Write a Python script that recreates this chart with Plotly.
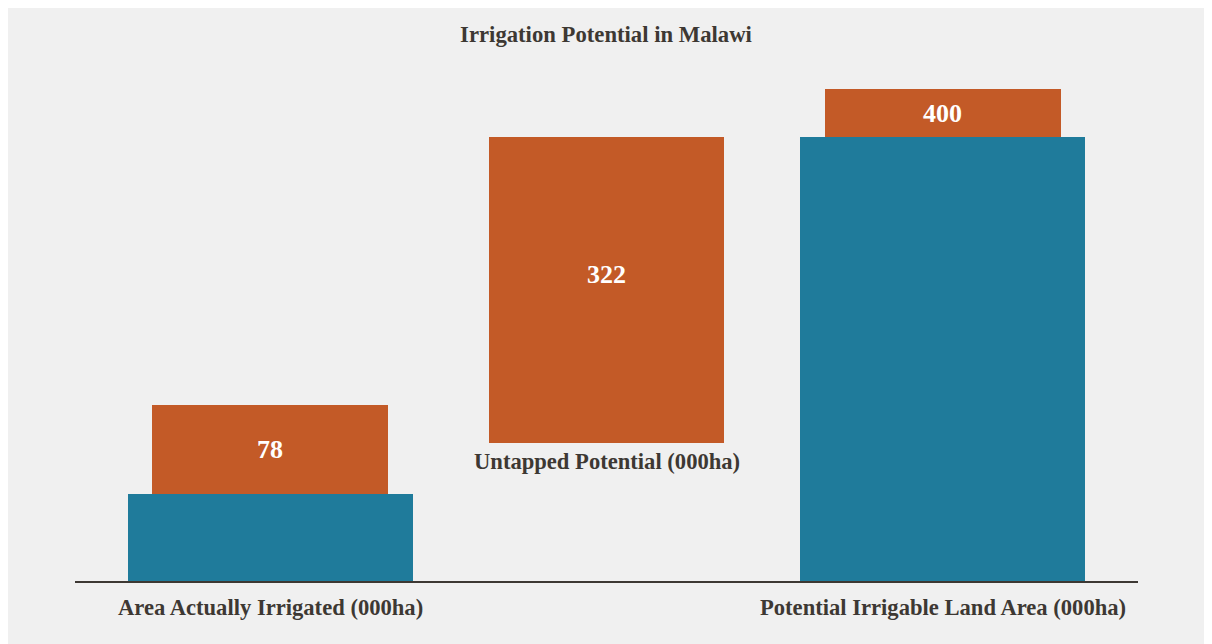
# %% Imports
import plotly.graph_objs as go

# %% Data
categories = ["Area Actually Irrigated (000ha)",
              "Untapped Potential (000ha)",
              "Potential Irrigable Land Area (000ha)"]
# blue columns (000ha)
blue_x = [0, 2]
blue_values = [78, 400]
# orange label boxes: base and height in axis units
box_x = [0, 1, 2]
box_base = [78, 124, 400]
box_height = [80, 276, 43]
box_labels = ["78", "322", "400"]
label_y = [118, 276, 421]

blue = "#1f7b9b"
orange = "#c35a27"
ink = "#3d3833"
font_family = "Liberation Serif, Times New Roman, serif"

# %% Figure
fig = go.Figure()
fig.add_trace(go.Bar(x=blue_x, y=blue_values, width=0.847,
                     marker={'color': blue, 'line': {'width': 0}},
                     hoverinfo="skip", showlegend=False))
fig.add_trace(go.Bar(x=box_x, y=box_height, base=box_base, width=0.70,
                     marker={'color': orange, 'line': {'width': 0}},
                     hoverinfo="skip", showlegend=False))

# numbers inside the orange boxes
for x, y, t in zip(box_x, label_y, box_labels):
    fig.add_annotation(x=x, y=y, text="<b>{}</b>".format(t), showarrow=False,
                       font={'family': font_family, 'size': 26,
                             'color': "white"})

# category labels
fig.add_annotation(x=0, y=0, yshift=-26, text="<b>{}</b>".format(categories[0]),
                   showarrow=False,
                   font={'family': font_family, 'size': 22.6, 'color': ink})
fig.add_annotation(x=1, y=124, yshift=-18, text="<b>{}</b>".format(categories[1]),
                   showarrow=False,
                   font={'family': font_family, 'size': 22.6, 'color': ink})
fig.add_annotation(x=2, y=0, yshift=-26, text="<b>{}</b>".format(categories[2]),
                   showarrow=False,
                   font={'family': font_family, 'size': 22.6, 'color': ink})

# page body adds 8px; margins are trimmed so the plot lands where it should
fig.update_layout(width=1212, height=644,
                  margin={'l': 67, 'r': 82, 't': 62, 'b': 71},
                  paper_bgcolor="#f0f0f0", plot_bgcolor="#f0f0f0",
                  title={'text': "<b>Irrigation Potential in Malawi</b>",
                         'x': (606 - 8) / 1212, 'xanchor': "center",
                         'y': 1 - 26 / 644, 'yanchor': "middle",
                         'font': {'family': font_family, 'size': 22.7,
                                  'color': ink}},
                  barmode="overlay", bargap=0)
fig.update_xaxes(range=[-0.58, 2.58], showgrid=False, zeroline=False,
                 showticklabels=False, showline=True, linecolor=ink,
                 linewidth=2, fixedrange=True)
fig.update_yaxes(range=[0, 460], showgrid=False, zeroline=False,
                 showticklabels=False, fixedrange=True)

fig.write_html("out.html")
